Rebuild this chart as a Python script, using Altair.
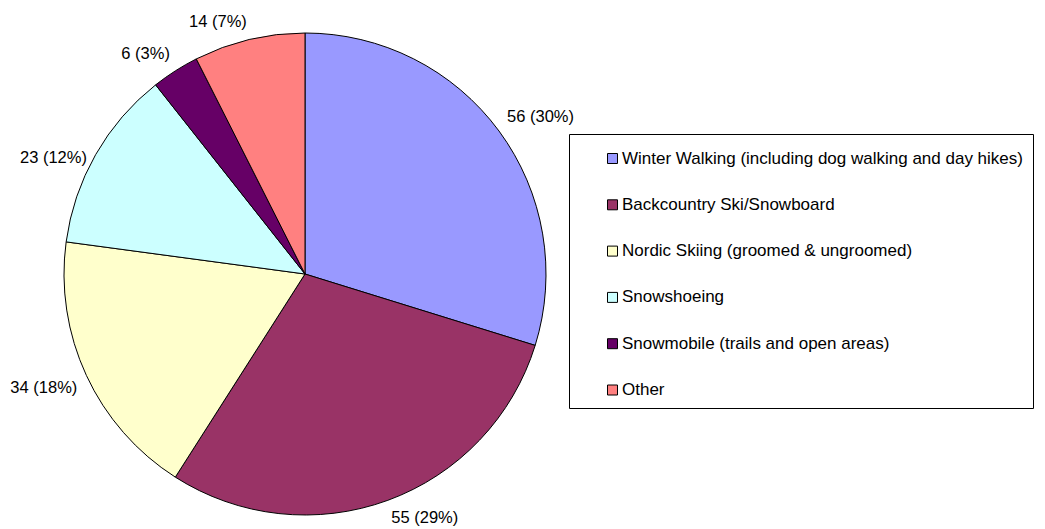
import altair as alt
import pandas as pd

categories = [
    "Winter Walking (including dog walking and day hikes)",
    "Backcountry Ski/Snowboard",
    "Nordic Skiing (groomed & ungroomed)",
    "Snowshoeing",
    "Snowmobile (trails and open areas)",
    "Other",
]
values = [56, 55, 34, 23, 6, 14]
colors = ["#9999FF", "#993366", "#FFFFCC", "#CCFFFF", "#660066", "#FF8080"]

df = pd.DataFrame({"category": categories, "value": values, "idx": list(range(len(values)))})

base = alt.Chart(df).transform_joinaggregate(
    total="sum(value)"
).transform_window(
    cum="sum(value)", sort=[alt.SortField("idx")], frame=[None, 0]
).transform_calculate(
    t0="(datum.cum - datum.value) / datum.total",
    t1="datum.cum / datum.total",
    mid="(datum.cum - datum.value / 2) / datum.total",
    cosm="cos(2 * PI * (datum.cum - datum.value / 2) / datum.total)",
    label="datum.value + ' (' + round(100 * datum.value / datum.total) + '%)'",
)

CX, CY, R = 297, 266, 241
theta_scale = alt.Scale(domain=[0, 1])

arcs = base.mark_arc(stroke="black", strokeWidth=1, outerRadius=R).encode(
    theta=alt.Theta("t0:Q", scale=theta_scale),
    theta2="t1:Q",
    x=alt.value(CX),
    y=alt.value(CY),
    color=alt.Color(
        "category:N",
        scale=alt.Scale(domain=categories, range=colors),
        sort=categories,
        legend=alt.Legend(
            title=" ",
            titleFontSize=2,
            titlePadding=4,
            orient="none",
            legendX=561,
            legendY=126,
            strokeColor="black",
            fillColor="white",
            padding=10,
            symbolOffset=25,
            symbolType="square",
            symbolSize=100,
            symbolStrokeColor="black",
            symbolStrokeWidth=1,
            labelFont="Liberation Sans",
            labelFontSize=17,
            labelColor="black",
            labelLimit=0,
            labelOffset=1,
            rowPadding=28.3,
        ),
    ),
)

def text_layer(cond, align, baseline):
    return base.transform_filter(cond).mark_text(
        radius=251, align=align, baseline=baseline,
        font="Liberation Sans", fontSize=16.5, color="black",
    ).encode(
        theta=alt.Theta("mid:Q", scale=theta_scale),
        x=alt.value(CX),
        y=alt.value(CY),
        text="label:N",
    )

layers = [arcs]
for side_cond, align in [("datum.mid < 0.5", "left"), ("datum.mid >= 0.5", "right")]:
    for v_cond, baseline in [
        ("datum.cosm > 0.5", "bottom"),
        ("datum.cosm <= 0.5", "top"),
    ]:
        layers.append(text_layer(f"({side_cond}) && ({v_cond})", align, baseline))

chart = alt.layer(*layers).properties(
    width=1029, height=521, padding=0,
    autosize=alt.AutoSizeParams(type="none"),
).configure_view(stroke=None)

chart.save("out.html", embed_options={"renderer": "svg", "actions": False})
